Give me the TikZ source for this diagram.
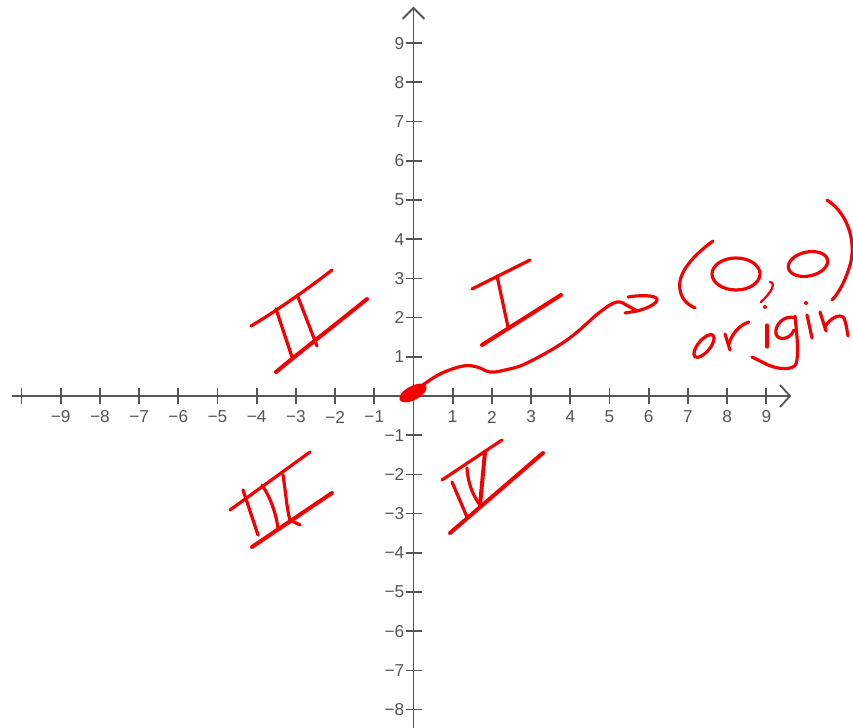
\documentclass[tikz,border=0pt]{standalone}
\usepackage{fontspec}
\setmainfont{Liberation Sans}
\definecolor{axisgray}{RGB}{85,85,85}
\definecolor{ink}{RGB}{245,0,0}
\tikzset{
  axline/.style={draw=axisgray, line width=1.3pt},
  axtick/.style={draw=axisgray, line width=1.3pt},
  lbl/.style={text=axisgray, inner sep=0pt, font=\fontsize{12.5}{14}\selectfont},
  pen/.style={draw=ink, line width=2.3pt, line cap=round, line join=round},
  thickpen/.style={pen, line width=2.9pt},
  thinpen/.style={pen, line width=1.6pt},
}
\begin{document}
\begin{tikzpicture}[x=0.0255cm,y=-0.0255cm]
\useasboundingbox (0,0) rectangle (853,728);
\fill[white] (0,0) rectangle (853,728);
% axes
\draw[axline] (12,396) -- (790,396);
\draw[axline] (413.5,730) -- (413.5,8);
\draw[axline] (780,385) -- (790,396) -- (780,407);
\draw[axline] (402.5,19) -- (413.5,8) -- (424.5,19);
% ticks
\foreach \k in {-10,...,-1,1,2,...,9}
  \draw[axtick] ({413.5+39.2*\k},388) -- ++(0,16);
\foreach \k in {-8,...,-1,1,2,...,9}
  \draw[axtick] (405.5,{396-39.2*\k}) -- ++(16,0);
% x labels
\foreach \k in {1,...,9}{
  \node[lbl] (xp\k) at ({413.5+39.2*\k},417) {\k};
  \node[lbl] (xm\k) at ({413.5-39.2*\k},417) {−\k};
}
% y labels
\foreach \k in {1,...,9}
  \node[lbl, anchor=east] (yp\k) at (404.5,{396-39.2*\k}) {\k};
\foreach \k in {1,...,8}
  \node[lbl, anchor=east] (ym\k) at (404.5,{396+39.2*\k}) {−\k};
% origin blob
\fill[ink, rotate around={28:(413,393)}] (413,393) ellipse [x radius=15, y radius=7];
% curved arrow to (0,0)
\draw[pen] plot[smooth, tension=0.6] coordinates {(420,387) (440,374) (463,366) (477,367) (490,372) (505,370) (527,363) (567,340) (600,312) (617,302) (628,306) (637,311)};
\draw[pen] (628,297) .. controls (640,295) and (655,295) .. (657,299) .. controls (658,304) and (645,309) .. (637,311) -- (625,313);
% (0,0)
\draw[pen] (713,241) .. controls (690,258) and (677,275) .. (680,290) .. controls (682,300) and (688,305) .. (695,308);
\draw[pen] (736,274) ellipse [x radius=24, y radius=16];
\draw[thinpen] (770,282) .. controls (776,283) and (772,292) .. (761,302);
\draw[pen, rotate around={12:(808,264)}] (808,264) ellipse [x radius=20, y radius=12];
\draw[pen] (827,200) .. controls (850,215) and (856,245) .. (850,265) .. controls (845,282) and (838,294) .. (832,300);
% origin
\draw[pen, rotate around={50:(704,346)}] (704,346) ellipse [x radius=14, y radius=6];
\draw[pen] (725,334) -- (730,350);
\draw[pen] (729,344) .. controls (732,333) and (740,325) .. (749,322);
\draw[pen] (767,325) -- (767,347);
\fill[ink] (765,307) circle [radius=2];
\draw[pen] (795,318) .. controls (785,314) and (774,325) .. (776,334) .. controls (778,341) and (790,340) .. (794,330);
\draw[pen] (795,316) .. controls (797,335) and (799,355) .. (796,364) .. controls (793,370) and (780,370) .. (768,365) -- (752,357);
\draw[pen] (807,315) -- (812,338);
\fill[ink] (806,303) circle [radius=2];
\draw[pen] (820,312) -- (826,331);
\draw[pen] (825,327) .. controls (830,318) and (840,313) .. (844,318) .. controls (846,323) and (847,330) .. (848,336);
% I
\draw[pen] (472,289) -- (530,260);
\draw[pen] (497,276) -- (508,327);
\draw[thickpen] (482,345) -- (561,295);
% II
\draw[pen] (251,326) .. controls (265,318) and (300,295) .. (332,270);
\draw[thickpen] (276,372) .. controls (300,352) and (335,325) .. (367,299);
\draw[pen] (276,309) -- (292,357);
\draw[pen] (298,297) -- (317,346);
% III
\draw[pen] (230,510) -- (310,452);
\draw[thickpen] (252,547) -- (332,493);
\draw[pen] (243,490) -- (258,535);
\draw[pen] (262,485) .. controls (272,500) and (276,515) .. (278,528);
\draw[pen] (283,475) .. controls (286,495) and (287,510) .. (290,520) -- (300,525);
% IV
\draw[pen] (442,480) -- (502,440);
\draw[thickpen] (450,533) -- (543,453);
\draw[pen] (452,482) -- (467,517);
\draw[pen] (467,468) .. controls (468,485) and (474,497) .. (480,505);
\draw[thickpen] (485,452) -- (480,505);
\end{tikzpicture}
\end{document}
